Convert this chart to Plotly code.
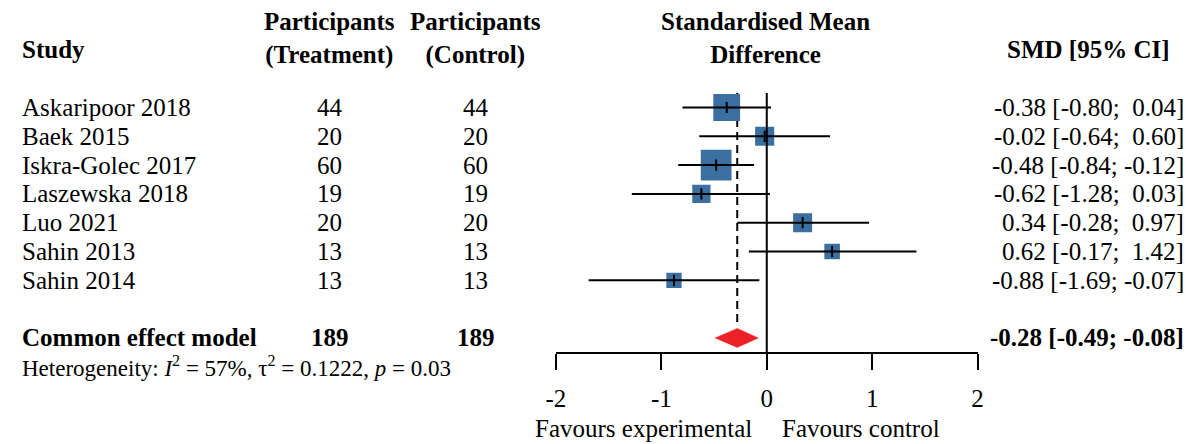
import math
import plotly.graph_objects as go

# ---------------- data ----------------
studies = ["Askaripoor 2018", "Baek 2015", "Iskra-Golec 2017", "Laszewska 2018",
           "Luo 2021", "Sahin 2013", "Sahin 2014"]
n_treatment = [44, 20, 60, 19, 20, 13, 13]
n_control = [44, 20, 60, 19, 20, 13, 13]
smd = [-0.38, -0.02, -0.48, -0.62, 0.34, 0.62, -0.88]
ci_lower = [-0.80, -0.64, -0.84, -1.28, -0.28, -0.17, -1.69]
ci_upper = [0.04, 0.60, -0.12, 0.03, 0.97, 1.42, -0.07]

pooled_label = "Common effect model"
pooled_smd = -0.28
pooled_lower = -0.49
pooled_upper = -0.08
total_treatment = 189
total_control = 189

het_I2 = "57%"
het_tau2 = "0.1222"
het_p = "0.03"

x_tick_values = [-2, -1, 0, 1, 2]
x_tick_labels = ["-2", "-1", "0", "1", "2"]

# ---------------- layout helpers ----------------
W, H = 1198, 444
FONT = "Liberation Serif, Times New Roman, serif"
FS = 25
ROW0_PX, ROW_PX = 107.5, 28.8          # pixel centre of first row, row pitch
AXIS_PX = 352                          # pixel y of the x axis line
X_LEFT_PX, X_RIGHT_PX = 553.3, 980.7   # pixel x of -2 and 2

rows = list(range(len(studies)))
pooled_row = len(studies) + 1
het_row = pooled_row + 1


def xp(px):
    return px / W


def row_px(r):
    return ROW0_PX + ROW_PX * r


def yp_px(py):
    return 1 - py / H


def fmt(v):
    return f"{v:.2f}"


def pad(v):
    s = fmt(v)
    return ("\u00a0" + s) if v >= 0 else s


def ci_text(est, lo, hi):
    return f"{fmt(est)} [{pad(lo)};\u00a0{pad(hi)}]"


# square sizes from inverse-variance weights
se = [(hi - lo) / (2 * 1.96) for lo, hi in zip(ci_lower, ci_upper)]
weights = [1 / s ** 2 for s in se]
sizes = [3 + 5.1 * math.sqrt(w) for w in weights]

fig = go.Figure()

# dashed line at pooled estimate
fig.add_trace(go.Scatter(x=[pooled_smd, pooled_smd], y=[-0.5, pooled_row - 0.5],
                         mode="lines", line=dict(color="black", width=2, dash="8px,5px"),
                         hoverinfo="skip"))
# squares
fig.add_trace(go.Scatter(x=smd, y=rows, mode="markers",
                         marker=dict(symbol="square", size=sizes, color="#3b6fa0",
                                     opacity=1, line=dict(width=0)),
                         hoverinfo="skip"))
# CI lines
cx, cy = [], []
for r, lo, hi in zip(rows, ci_lower, ci_upper):
    cx += [lo, hi, None]
    cy += [r, r, None]
fig.add_trace(go.Scatter(x=cx, y=cy, mode="lines", line=dict(color="black", width=2),
                         hoverinfo="skip"))
# line of no effect
y_bottom = (AXIS_PX - ROW0_PX) / ROW_PX
fig.add_trace(go.Scatter(x=[0, 0], y=[-0.5, y_bottom], mode="lines",
                         line=dict(color="black", width=2), hoverinfo="skip"))
# estimate ticks
fig.add_trace(go.Scatter(x=smd, y=rows, mode="markers",
                         marker=dict(symbol="line-ns", size=8,
                                     line=dict(color="black", width=2)),
                         hoverinfo="skip"))
# diamond
dh = 9.5 / ROW_PX
fig.add_trace(go.Scatter(x=[pooled_lower, pooled_smd, pooled_upper, pooled_smd, pooled_lower],
                         y=[pooled_row, pooled_row - dh, pooled_row, pooled_row + dh, pooled_row],
                         mode="lines", fill="toself", fillcolor="#ee2027",
                         line=dict(color="#ee2027", width=0.5), hoverinfo="skip"))

annotations = []


def ann(text, xpx, ypx, xanchor="center", bold=False, size=FS):
    if bold:
        text = f"<b>{text}</b>"
    annotations.append(dict(text=text, x=xp(xpx), y=yp_px(ypx), xref="paper", yref="paper",
                            xanchor=xanchor, yanchor="middle", align=xanchor, showarrow=False,
                            borderpad=0, borderwidth=0,
                            font=dict(family=FONT, size=size, color="black")))


# headers
ann("Study", 12, 50, "left", True)
ann("Participants<br>(Treatment)", 324, 38, "center", True)
ann("Participants<br>(Control)", 472, 38, "center", True)
ann("Standardised Mean<br>Difference", 766, 38, "center", True)
ann("SMD [95% CI]", 1176, 50, "right", True)

# study rows
for r, name, nt, nc, e, lo, hi in zip(rows, studies, n_treatment, n_control, smd, ci_lower, ci_upper):
    y = row_px(r)
    ann(name, 12, y, "left")
    ann(str(nt), 324, y, "center")
    ann(str(nc), 472, y, "center")
    ann(ci_text(e, lo, hi), 1190, y, "right")

# pooled row
y = row_px(pooled_row)
ann(pooled_label, 12, y, "left", True)
ann(str(total_treatment), 324, y, "center", True)
ann(str(total_control), 472, y, "center", True)
ann(ci_text(pooled_smd, pooled_lower, pooled_upper), 1190, y, "right", True)

# heterogeneity
ann(f"Heterogeneity: <i>I</i><sup>2</sup> = {het_I2}, \u03c4<sup>2</sup> = {het_tau2}, <i>p</i> = {het_p}",
    12, row_px(het_row), "left", size=23)

# favours labels
ann("Favours experimental", 752, 428, "right")
ann("Favours control", 782, 428, "left")

y_top = -ROW0_PX / ROW_PX
fig.update_layout(
    width=W, height=H, margin=dict(l=0, r=0, t=0, b=0),
    paper_bgcolor="white", plot_bgcolor="white", showlegend=False,
    annotations=annotations,
    xaxis=dict(domain=[xp(X_LEFT_PX), xp(X_RIGHT_PX)], range=[-2, 2],
               showgrid=False, zeroline=False, showline=True, linecolor="black", linewidth=2,
               ticks="outside", ticklen=16, tickwidth=2, tickcolor="black",
               tickvals=x_tick_values, ticktext=x_tick_labels,
               tickfont=dict(family=FONT, size=FS, color="black"),
               ticklabelstandoff=7, fixedrange=True),
    yaxis=dict(domain=[(H - AXIS_PX) / H, 1], range=[y_bottom, y_top], visible=False,
               showgrid=False, zeroline=False, fixedrange=True),
)

fig.write_html("out.html")
